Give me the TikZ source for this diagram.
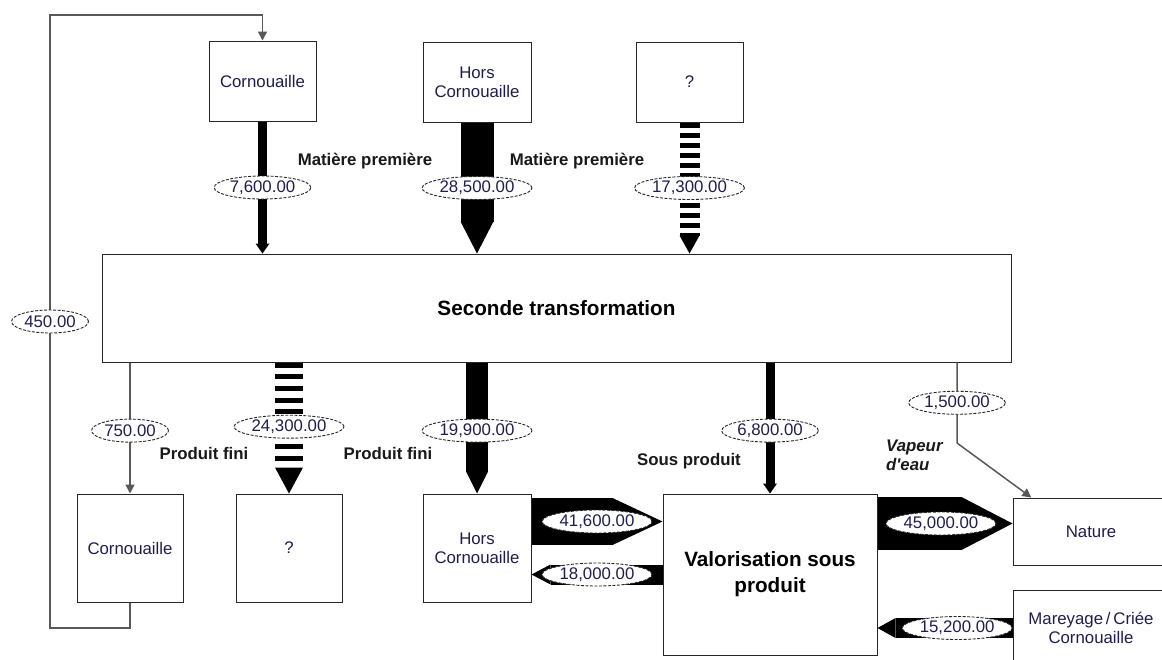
\documentclass[tikz,border=0pt]{standalone}
\usepackage{fontspec}
\setmainfont{Liberation Sans}
\usetikzlibrary{arrows.meta,positioning,calc,shapes.geometric}
\definecolor{boxtext}{HTML}{1E1E4E}
\definecolor{linkgray}{HTML}{595959}
\newcommand{\lblfont}{\fontsize{16.8}{19}\selectfont}
\newcommand{\bigfont}{\fontsize{20.7}{26}\selectfont\bfseries}

\tikzset{
  pbox/.style 2 args={draw=black!85,line width=1pt,fill=white,minimum width=#1,minimum height=#2,
    inner sep=0pt,align=center,text=boxtext,font=\lblfont},
  flowval/.style={ellipse,draw=black!85,fill=white,line width=0.9pt,dash pattern=on 3pt off 1.5pt,
    inner xsep=1.5pt,inner ysep=0pt,minimum height=23pt,text=boxtext,font=\lblfont},
  flowlbl/.style={inner sep=0pt,text=black!90,font=\lblfont\bfseries},
  thinflow/.style={draw=black,line width=9pt,-{Triangle[length=10pt,width=14pt,line width=0pt]}},
  fatflow/.style 2 args={draw=black,line width=#1,-{Triangle[length=#2,width=#1,line width=0pt]}},
  barflow/.style n args={3}{draw=black,line width=#1,dash pattern=#3,
    -{Triangle[length=#2,width=#1,line width=0pt]}},
  thinlink/.style={draw=linkgray,line width=1.5pt,-{Triangle[length=9pt,width=9pt]}},
}

\begin{document}
\begin{tikzpicture}[x=1pt,y=-1pt]
  \useasboundingbox (0,0) rectangle (1162,659);
  % sources
  \node[pbox={107pt}{80pt}] (srcA) at (262.5,81) {Cornouaille};
  \node[pbox={108pt}{80pt}] (srcB) at (477,82) {Hors\\Cornouaille};
  \node[pbox={107pt}{80pt}] (srcC) at (689.5,82) {?};
  % main process
  \node[pbox={909pt}{108pt},font=\bigfont,text=black] (st) at (556.5,308) {Seconde transformation};
  % outputs
  \node[pbox={106pt}{108pt}] (dstA) at (130,548) {Cornouaille};
  \node[pbox={106pt}{108pt}] (dstB) at (289,548) {?};
  \node[pbox={108pt}{108pt}] (dstC) at (477,548) {Hors\\Cornouaille};
  \node[pbox={214pt}{161pt},font=\bigfont,text=black] (vsp) at (770,574.5) {Valorisation sous\\produit};
  \node[pbox={156pt}{67pt}] (nat) at (1091,531.5) {Nature};
  \node[pbox={156pt}{76pt}] (mar) at (1091,628) {Mareyage\,/\,Criée\\Cornouaille};

  \node[flowlbl] (mp1) at (365,161) {Matière première};
  \node[flowlbl] (mp2) at (577,161) {Matière première};
  \node[flowlbl] (pf1) at (204,453) {Produit fini};
  \node[flowlbl] (pf2) at (388,453) {Produit fini};
  \node[flowlbl] (spd) at (689,461) {Sous produit};
  \node[flowlbl,font=\lblfont\bfseries\itshape,align=left,anchor=north west] (vap) at (886,440)
    {Vapeur\\d\textquotesingle eau};

  % flows in
  \draw[thinflow] (srcA.south) -- (srcA.south |- st.north) node[flowval,midway] {7,600.00};
  \draw[fatflow={33pt}{32pt}] (srcB.south) -- (srcB.south |- st.north) node[flowval,midway] {28,500.00};
  \draw[barflow={20pt}{18pt}{on 5pt off 5pt}] (srcC.south) -- (srcC.south |- st.north)
    node[flowval,midway] {17,300.00};

  % flows out
  \draw[thinlink] (dstA.north |- st.south) -- (dstA.north) node[flowval,pos=0.52] {750.00};
  \draw[barflow={28pt}{26pt}{on 5pt off 6.7pt}] (dstB.north |- st.south) -- (dstB.north)
    node[flowval,pos=0.49] {24,300.00};
  \draw[fatflow={22pt}{22pt}] (dstC.north |- st.south) -- (dstC.north) node[flowval,pos=0.52] {19,900.00};
  \draw[thinflow] (vsp.north |- st.south) -- (vsp.north) node[flowval,pos=0.52] {6,800.00};

  \coordinate (vbend) at (957,443);
  \draw[thinlink] (vbend |- st.south) -- node[flowval] {1,500.00} (vbend)
    -- ($(nat.north west)!0.12!(nat.north east)$);

  % loop back to the top
  \coordinate (loopB) at (50,628);
  \coordinate (loopT) at (50,15);
  \draw[thinlink] (dstA.south) -- (dstA.south |- loopB) -- (loopB)
    -- node[flowval] {450.00} (loopT) -| (srcA.north);

  % by-product exchanges
  \draw[fatflow={47pt}{50pt}] ([yshift=26.5pt]dstC.east) -- ([yshift=26.5pt]dstC.east -| vsp.west)
    node[flowval,midway] {41,600.00};
  \draw[fatflow={20pt}{19pt}] (vsp.west) -- (vsp.west -| dstC.east) node[flowval,midway] {18,000.00};
  \draw[fatflow={53pt}{51pt}] ([yshift=51pt]vsp.east) -- ([yshift=51pt]vsp.east -| nat.west)
    node[flowval,pos=0.47] {45,000.00};
  \draw[fatflow={20pt}{18pt}] (mar.west) -- (mar.west -| vsp.east) node[flowval,pos=0.41] {15,200.00};
\end{tikzpicture}
\end{document}
